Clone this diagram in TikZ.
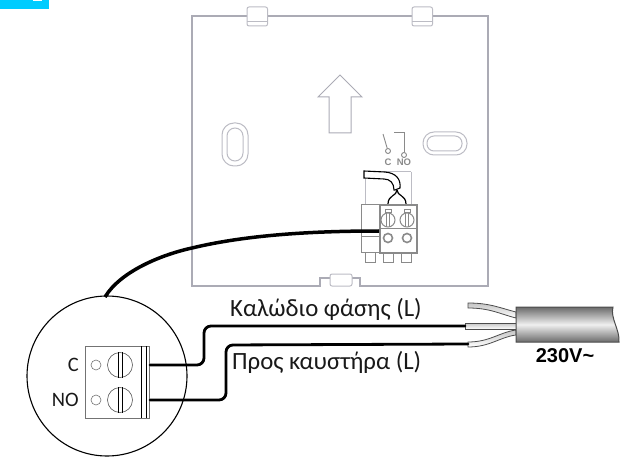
\documentclass[tikz,border=0pt]{standalone}
\usepackage{fontspec}
\usepackage{tikz}
\setmainfont{Carlito}
\newfontfamily\arialbold{Liberation Sans}[Scale=1]
\usetikzlibrary{positioning}
\definecolor{platec}{HTML}{ABABB5}
\definecolor{partc}{HTML}{8A8A8A}
\definecolor{cyanc}{HTML}{00CCFF}
\tikzset{
  plateline/.style={draw=platec,line width=1.8pt},
  thinpart/.style={draw=platec!80!white,line width=1pt},
  partline/.style={draw=partc,line width=.9pt},
  blackwire/.style={draw=black,line width=2.8pt,line cap=round,rounded corners=7pt},
  label/.style={font=\fontsize{24.8}{28}\selectfont,inner sep=0pt,text=black!90},
  smalllabel/.style={font=\fontsize{20.5}{24}\selectfont,inner sep=0pt,text=black!90},
  relaylabel/.style={font=\arialbold\bfseries\fontsize{9.5}{10}\selectfont,text=partc,inner sep=0pt},
  screw/.style={circle,draw=black!65,line width=.6pt,minimum size=25pt,inner sep=0pt},
  hole/.style={circle,draw=black!55,line width=.6pt,minimum size=10pt,inner sep=0pt},
  smallscrew/.style={circle,draw=partc,line width=1pt,minimum size=14pt,inner sep=0pt},
  ringhole/.style={circle,draw=partc,line width=1.6pt,minimum size=9pt,inner sep=0pt},
  corewire/.style={draw=black!70,line width=.8pt,top color=gray!45,bottom color=white}
}
\begin{document}
\begin{tikzpicture}[x=1pt,y=-1pt]
\useasboundingbox (0,0) rectangle (629,457);
\fill[cyanc] (0,0) rectangle (49,9);
\fill[white] (33,0) rectangle (42,1);
%plate
\draw[plateline] (247,16)--(192,16)--(192,286)--(320,286)--(320,278)--(330,278);
\draw[plateline] (352,278)--(360,278)--(360,286)--(488,286)--(488,16)--(433,16);
\draw[plateline] (267,16)--(412,16);
\foreach \tabx in {247,412}{
  \draw[thinpart,rounded corners=2pt] (\tabx,7) rectangle ++(20.5,19);
  \draw[thinpart] (\tabx,22)--++(20.5,0);
}
\draw[thinpart,rounded corners=2pt] (330,274) rectangle (352,286);
%slots
\draw[thinpart,rounded corners=12pt] (222,123) rectangle (248,166);
\draw[thinpart,rounded corners=8pt] (227,128) rectangle (243,161);
\draw[thinpart,rounded corners=11pt] (423,132) rectangle (467,155);
\draw[thinpart,rounded corners=7pt] (427,136) rectangle (462,151);
\draw[thinpart,draw=platec] (340,75)--(362,97)--(351,97)--(351,133)--(329,133)--(329,97)--(318,97)--cycle;
%relay
\node[hole,minimum size=5pt,draw=partc,line width=.9pt] (r_c) at (388,151) {};
\node[hole,minimum size=5pt,draw=partc,line width=.9pt] (r_no) at (404,155) {};
\draw[partline] (383,134)--(r_c);
\draw[partline] (r_no)--(404,132)--(394,132);
\node[relaylabel] at (388,162) {C};
\node[relaylabel] at (404,162) {NO};
%terminal on plate
\draw[thinpart] (365,172)--(365,204) (411,172)--(411,204) (365,172)--(411,172);
\draw[fill=white,line width=1.1pt] (364,171)--(385,172) .. controls (396,173) and (401,179) .. (400,188)--(395,190)--(394,190) .. controls (394,183) and (390,179) .. (384,179)--(364,178)--cycle;
\draw[line width=1.2pt] (397,190) .. controls (397,196) and (388,195) .. (388,204);
\draw[line width=1.2pt] (397,190) .. controls (397,196) and (406,195) .. (406,204);
\draw[partline] (361,204) rectangle (379,252);
\draw[partline] (361,236)--(379,236);
\draw[partline,line width=1.2pt] (380,205) rectangle (417,253);
\draw[partline] (380,228)--(417,228);
\foreach \bx in {388,407}{
  \draw[partline] (\bx-3,209) rectangle (\bx+3,212);
  \node[smallscrew] at (\bx,220) {};
  \draw[partline] (\bx-1.5,213)--(\bx-1.5,227) (\bx+1.5,213)--(\bx+1.5,227);
  \node[ringhole] at (\bx,238) {};
}
\foreach \tabx in {370,388,406}{
  \draw[partline] (\tabx-5,252) rectangle (\tabx+5,262);
}
%circle
\node[circle,draw=black,line width=1.1pt,minimum size=160pt,inner sep=0pt] (circ) at (107,376) {};
\node[draw=black!55,line width=.8pt,minimum width=64pt,minimum height=72pt,inner sep=0pt] (block) at (117,382) {};
\draw[line width=1pt] (141.5,346)--(141.5,418) (146,346)--(146,418);
\node[hole] (hole_c) at (96,365) {};
\node[hole] (hole_no) at (96,400) {};
\node[screw] (screw_c) at (120,365) {};
\node[screw] (screw_no) at (120,400) {};
\foreach \sn in {screw_c,screw_no}{
  \draw[line width=.8pt] ([xshift=-2pt]\sn.north)--([xshift=-2pt]\sn.south);
  \draw[line width=.8pt] ([xshift=2pt]\sn.north)--([xshift=2pt]\sn.south);
}
\node[smalllabel,anchor=east] (lab_c) at (79,365) {C};
\node[smalllabel,anchor=east] (lab_no) at (79,400) {NO};
%cable
\coordinate (term_c) at (150,365);
\coordinate (term_no) at (150,400);
\coordinate (core_l) at (465,326);
\coordinate (core_p) at (468,344);
\coordinate (plate_t) at (379,231);
\draw[corewire] (468,303)--(468,308) .. controls (490,308) and (500,314) .. (516,318)--(516,312) .. controls (500,308) and (490,303) .. (468,303)--cycle;
\draw[corewire] (465,323) rectangle (516,329);
\draw[corewire] (468,342)--(468,347) .. controls (490,347) and (500,337) .. (516,335)--(516,330) .. controls (500,332) and (490,342) .. (468,342)--cycle;
\draw[draw=black!70,line width=1pt,top color=black!58,bottom color=black!58,middle color=black!6] (516,307)--(613,307) .. controls (610,318) and (620,330) .. (619,342)--(516,342)--cycle;
\node[font=\arialbold\bfseries\fontsize{20}{24}\selectfont,inner sep=0pt] (volt) at (565,356) {230V\char`\~};
%wires
\draw[blackwire] (term_c)--(204,365)--(204,326)--(core_l);
\draw[blackwire] (term_no)--(226,400)--(226,345)--(core_p);
\draw[draw=black,line width=3.5pt] (105,297) .. controls (120,272) and (160,255) .. (192,248) .. controls (250,234) and (320,231) .. (plate_t);
\node[label,anchor=base west] (lab_l) at (230,316) {Καλώδιο φάσης (L)};
\node[label,anchor=base west] (lab_p) at (232,369) {Προς καυστήρα (L)};
\end{tikzpicture}
\end{document}
